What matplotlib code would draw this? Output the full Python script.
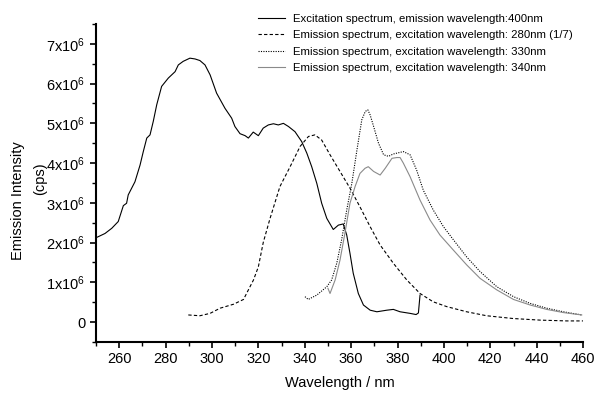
import matplotlib
matplotlib.use('Agg')
import matplotlib.pyplot as plt
from matplotlib.ticker import MultipleLocator, FuncFormatter

plt.rcParams['font.family'] = ['Liberation Sans', 'DejaVu Sans']
plt.rcParams['mathtext.fontset'] = 'custom'
plt.rcParams['mathtext.rm'] = 'Liberation Sans'

# excitation spectrum, emission 400 nm (intensity in units of 1e6 cps)
exc_x = [250.3, 253.9, 256.8, 259.6, 261.8, 263.2, 263.9, 266.8, 269.0, 270.4, 271.9,
         273.3, 274.7, 276.2, 278.3, 281.2, 284.1, 285.5, 287.6, 290.5, 292.7, 294.8,
         297.0, 299.2, 302.0, 305.6, 308.5, 309.9, 312.1, 314.3, 315.7, 317.8, 320.0,
         322.1, 324.3, 326.5, 328.6, 330.8, 333.0, 335.8, 338.7, 340.9, 343.0, 345.2,
         347.3, 349.5, 352.3, 354.5, 356.6, 358.1, 359.5, 360.9, 363.1, 365.3, 368.2,
         371.1, 375.4, 378.2, 381.1, 385.4, 388.0, 389.0, 389.7]
exc_y = [2.13, 2.23, 2.36, 2.53, 2.93, 2.99, 3.20, 3.53, 3.95, 4.29, 4.63,
         4.71, 5.05, 5.47, 5.93, 6.14, 6.30, 6.47, 6.56, 6.64, 6.62, 6.58,
         6.47, 6.22, 5.76, 5.38, 5.13, 4.92, 4.74, 4.69, 4.63, 4.78, 4.69,
         4.88, 4.96, 4.99, 4.96, 5.00, 4.92, 4.79, 4.54, 4.25, 3.91, 3.49,
         2.99, 2.61, 2.33, 2.44, 2.47, 2.19, 1.73, 1.23, 0.72, 0.43, 0.30,
         0.26, 0.30, 0.32, 0.26, 0.22, 0.19, 0.23, 0.68]

# emission spectrum, excitation 280 nm (scaled 1/7)
em280_x = [289.8, 294.8, 299.2, 303.5, 306.4, 309.3, 313.6, 315.7, 317.9, 320.0, 322.1,
           325.0, 329.3, 333.7, 338.0, 341.6, 344.4, 347.3, 350.9, 355.2, 359.5, 363.8,
           368.2, 372.5, 378.2, 384.0, 389.7, 395.4, 401.2, 409.8, 418.4, 429.9, 441.5,
           453.0, 460.0]
em280_y = [0.18, 0.16, 0.22, 0.35, 0.40, 0.45, 0.57, 0.81, 1.06, 1.39, 2.00,
           2.60, 3.41, 3.91, 4.42, 4.67, 4.71, 4.58, 4.21, 3.79, 3.37, 2.90,
           2.40, 1.94, 1.48, 1.06, 0.72, 0.51, 0.39, 0.26, 0.16, 0.09, 0.05,
           0.03, 0.03]

# emission spectrum, excitation 330 nm
em330_x = [340.1, 341.5, 345.2, 349.5, 351.6, 353.8, 355.9, 358.1, 360.3, 362.5, 364.6,
           366.1, 367.2, 368.2, 369.7, 371.8, 374.0, 376.1, 378.2, 380.4, 382.5, 385.4,
           388.2, 391.1, 395.4, 399.8, 404.1, 409.8, 415.6, 422.8, 430.0, 437.2, 444.3,
           451.5, 459.4]
em330_y = [0.64, 0.57, 0.68, 0.89, 1.06, 1.48, 2.07, 2.82, 3.49, 4.33, 5.09,
           5.30, 5.34, 5.21, 4.92, 4.50, 4.21, 4.17, 4.23, 4.26, 4.29, 4.21,
           3.83, 3.32, 2.82, 2.40, 2.07, 1.64, 1.27, 0.89, 0.64, 0.47, 0.35,
           0.26, 0.18]

# emission spectrum, excitation 340 nm
em340_x = [350.0, 350.9, 353.1, 355.2, 357.3, 359.5, 361.7, 363.8, 366.0, 367.4, 369.7,
           372.5, 374.7, 377.6, 379.7, 381.1, 382.5, 385.4, 389.7, 394.0, 398.3, 404.1,
           409.8, 415.6, 422.8, 430.0, 437.2, 444.3, 451.5, 459.4]
em340_y = [0.85, 0.72, 1.06, 1.56, 2.23, 2.99, 3.41, 3.74, 3.87, 3.91, 3.79,
           3.70, 3.87, 4.12, 4.14, 4.14, 4.00, 3.66, 3.07, 2.57, 2.19, 1.81,
           1.44, 1.10, 0.81, 0.57, 0.43, 0.32, 0.24, 0.18]

labels = ['Excitation spectrum, emission wavelength:400nm',
          'Emission spectrum, excitation wavelength: 280nm (1/7)',
          'Emission spectrum, excitation wavelength: 330nm',
          'Emission spectrum, excitation wavelength: 340nm']

fig = plt.figure(figsize=(5.95, 3.93), dpi=100)
ax = fig.add_axes([0.1613, 0.1298, 0.8187, 0.8092])

sc = 1e6
ax.plot(exc_x, [v * sc for v in exc_y], color='black', lw=0.8, label=labels[0])
ax.plot(em280_x, [v * sc for v in em280_y], color='black', lw=0.8, ls=(0, (3, 2)), label=labels[1])
ax.plot(em330_x, [v * sc for v in em330_y], color='black', lw=0.8, ls=(0, (1, 1.2)), label=labels[2])
ax.plot(em340_x, [v * sc for v in em340_y], color='#8a8a8a', lw=0.8, label=labels[3])

ax.set_xlim(250, 460)
ax.set_ylim(-0.5e6, 7.5e6)
ax.xaxis.set_major_locator(MultipleLocator(20))
ax.xaxis.set_minor_locator(MultipleLocator(10))
ax.yaxis.set_major_locator(MultipleLocator(1e6))
ax.yaxis.set_minor_locator(MultipleLocator(0.5e6))


def yfmt(v, pos):
    n = int(round(v / 1e6))
    if n == 0:
        return '0'
    return r'$\mathregular{%dx10^{6}}$' % n


ax.yaxis.set_major_formatter(FuncFormatter(yfmt))
for s in ['top', 'right']:
    ax.spines[s].set_visible(False)
for s in ['left', 'bottom']:
    ax.spines[s].set_linewidth(1.5)
ax.tick_params(which='major', direction='out', length=4, width=1.2, labelsize=10.5)
ax.tick_params(which='minor', direction='out', length=3, width=1.0)

fig.text(0.571, 0.025, 'Wavelength / nm', fontsize=10.5, ha='center', va='center')
fig.text(0.03, 0.49, 'Emission Intensity', rotation=90, fontsize=10.5, ha='center', va='center')
fig.text(0.068, 0.545, '(cps)', rotation=90, fontsize=10.5, ha='center', va='center')

ax.legend(loc='upper right', bbox_to_anchor=(1.0, 1.065), frameon=False, fontsize=8.2,
          handlelength=2.4, handletextpad=0.7, labelspacing=0.58)

fig.savefig('out.png', dpi=100)
